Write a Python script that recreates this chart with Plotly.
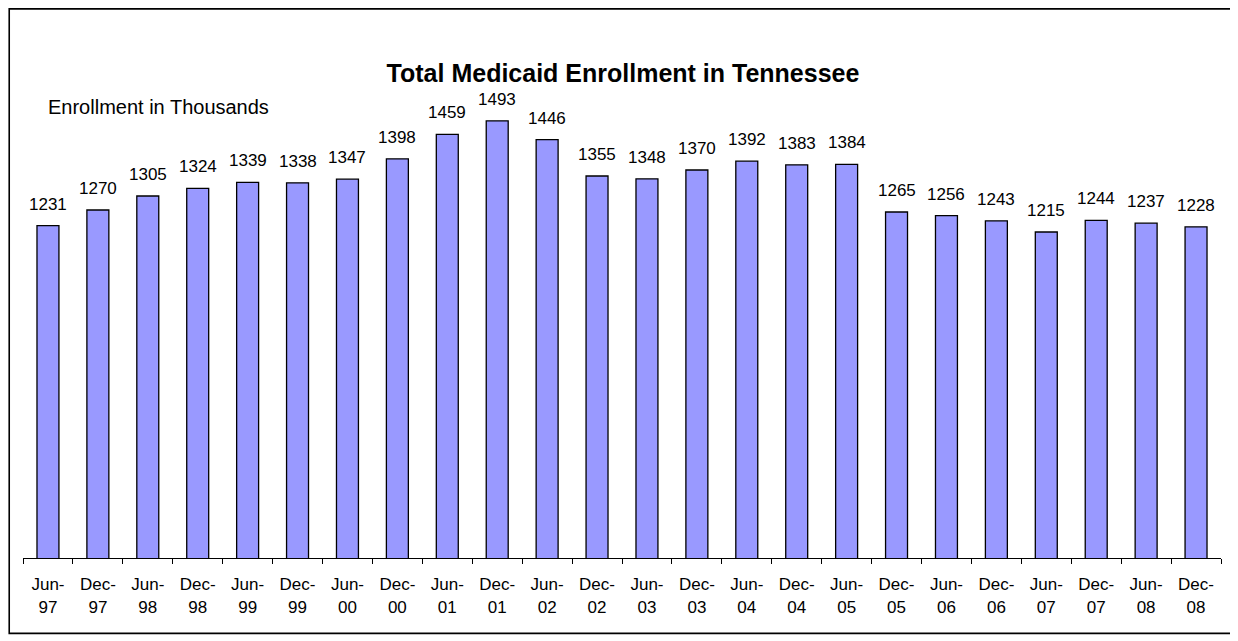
import plotly.graph_objects as go

# ======================================================
# Data (thousands of enrollees)
# ======================================================
periods = ["Jun-97", "Dec-97", "Jun-98", "Dec-98", "Jun-99", "Dec-99",
           "Jun-00", "Dec-00", "Jun-01", "Dec-01", "Jun-02", "Dec-02",
           "Jun-03", "Dec-03", "Jun-04", "Dec-04", "Jun-05", "Dec-05",
           "Jun-06", "Dec-06", "Jun-07", "Dec-07", "Jun-08", "Dec-08"]
enrollment = [1231, 1270, 1305, 1324, 1339, 1338, 1347, 1398, 1459, 1493,
              1446, 1355, 1348, 1370, 1392, 1383, 1384, 1265, 1256, 1243,
              1215, 1244, 1237, 1228]
tick_text = [p.replace("-", "-<br>") for p in periods]

FONT = "Liberation Sans, Arial, sans-serif"

fig = go.Figure()
fig.add_trace(go.Bar(
    x=periods,
    y=enrollment,
    width=0.44,
    marker=dict(color="#9999FF", line=dict(color="black", width=1.3)),
    hoverinfo="x+y",
))

# data labels above each bar
for p, v in zip(periods, enrollment):
    fig.add_annotation(x=p, y=v, text=str(v), showarrow=False,
                       yanchor="bottom", yshift=10,
                       font=dict(family=FONT, size=17, color="black"))

fig.add_annotation(xref="paper", yref="paper", x=0.019, y=0.94,
                   xanchor="left", yanchor="middle", showarrow=False,
                   text="Enrollment in Thousands",
                   font=dict(family=FONT, size=20, color="black"))

# page body adds an 8px offset, so the figure is sized to fit the window
fig.update_layout(
    width=1230, height=633,
    margin=dict(l=15, r=17, t=70, b=83),
    paper_bgcolor="white",
    plot_bgcolor="white",
    showlegend=False,
    bargap=0.56,
    title=dict(text="<b>Total Medicaid Enrollment in Tennessee</b>",
               x=0.5, xanchor="center", y=0.897, yanchor="middle",
               font=dict(family=FONT, size=25, color="black")),
    font=dict(family=FONT, size=17, color="black"),
    shapes=[dict(type="rect", xref="paper", yref="paper",
                 x0=-0.0115, x1=1.009, y0=-0.157, y1=1.144,
                 line=dict(color="black", width=1.6))],
)
fig.update_xaxes(
    type="category",
    tickmode="array", tickvals=periods, ticktext=tick_text,
    tickson="boundaries", ticks="outside", ticklen=5,
    tickcolor="black", tickwidth=1,
    showline=True, linecolor="black", linewidth=1,
    showgrid=False, tickfont=dict(family=FONT, size=17, color="black"),
    tickangle=0, ticklabelstandoff=11,
)
fig.update_yaxes(visible=False, range=[400, 1600], showgrid=False)

fig.write_html("out.html")
